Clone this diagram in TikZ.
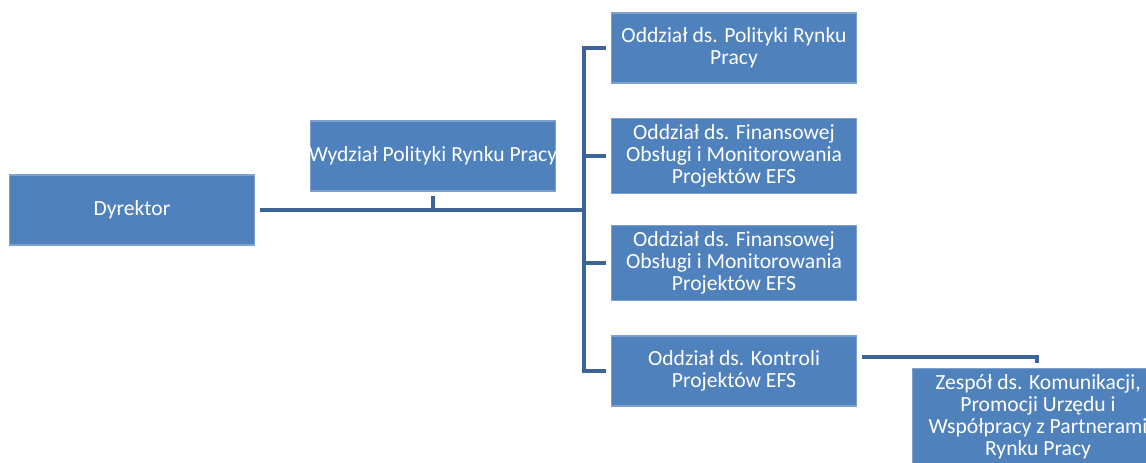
\documentclass[tikz,border=0pt]{standalone}
\usepackage{fontspec}
\setmainfont{Carlito}
\usepackage{tikz}
\usetikzlibrary{positioning, calc}
\definecolor{unitblue}{RGB}{79,129,189}
\definecolor{unitedge}{RGB}{125,160,205}
\definecolor{linkblue}{RGB}{60,101,151}

\begin{document}
\begin{tikzpicture}[
    x=0.02cm, y=-0.02cm,
    unit/.style={draw=unitedge, line width=0.6pt, fill=unitblue, text=white, minimum width=4.9cm, minimum height=1.4cm, inner xsep=0pt, font=\fontsize{12.3}{12.6}\selectfont, align=center, outer sep=3pt},
    conn/.style={draw=linkblue, line width=2.8pt}
]
    \useasboundingbox (0,0) rectangle (1146,463);
    \clip (0,0) rectangle (1146,463);

    % Units
    \node[unit] (dyr) at (132,210) {Dyrektor};
    \node[unit] (wyd) at (433,156) {\makebox[4.9cm]{Wydział Polityki Rynku Pracy}};
    \node[unit] (odd1) at (734,48) {Oddział ds. Polityki Rynku\\Pracy};
    \node[unit] (odd2) at (734,156) {Oddział ds. Finansowej\\Obsługi i Monitorowania\\Projektów EFS};
    \node[unit] (odd3) at (734,263) {Oddział ds. Finansowej\\Obsługi i Monitorowania\\Projektów EFS};
    \node[unit] (odd4) at (734,371) {Oddział ds. Kontroli\\Projektów EFS};
    \node[unit, minimum width=5.04cm, minimum height=1.88cm] (zes) at (1038,417) {Zespół ds. Komunikacji,\\Promocji Urzędu i\\Współpracy z Partnerami\\Rynku Pracy};

    % Connectors
    \coordinate (trunk) at (584,210);
    \coordinate (zbend) at (1037,357);
    \draw[conn] (dyr.east) -- (trunk);
    \draw[conn] (wyd.south) -- (wyd.south |- trunk);
    \foreach \u in {odd1, odd2, odd3, odd4}
        \draw[conn] (trunk) |- (\u.west);
    \draw[conn] (odd4.east |- zbend) -- (zbend) -- (zbend |- zes.north);
\end{tikzpicture}
\end{document}
